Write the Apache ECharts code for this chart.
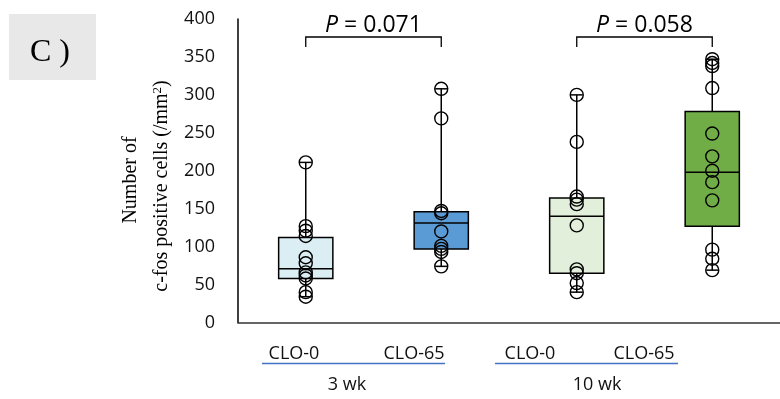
<!DOCTYPE html>
<html>
<head>
<meta charset="utf-8">
<script src="https://cdn.jsdelivr.net/npm/echarts@6/dist/echarts.min.js"></script>
<style>
	html, body { margin: 0; padding: 0; background: #fff; }
	#main { width: 780px; height: 399px; }
</style>
</head>
<body>
<div id="main"></div>
<script>
// 分组
var categories = ['3wk CLO-0', '3wk CLO-65', '10wk CLO-0', '10wk CLO-65'];

// 箱线: [min, q1, median, q3, max]
var boxStats = [
	[34, 58, 71, 112, 211],
	[74, 97, 131, 146, 308],
	[40, 65, 140, 164, 300],
	[69, 127, 198, 278, 347]
];

// 各组的原始点
var points_3wk_0 = [211, 127, 121, 114, 86, 78, 66, 62, 58, 40, 34];
var points_3wk_65 = [308, 269, 147, 144, 120, 101, 97, 93, 74];
var points_10wk_0 = [300, 238, 166, 162, 156, 128, 70, 65, 52, 40];
var points_10wk_65 = [347, 342, 338, 309, 249, 219, 200, 185, 161, 96, 84, 69];

var boxColors = ['#DAEEF3', '#5B9BD5', '#E2EFDA', '#70AD47'];

// 显著性
var pLabels = ['0.071', '0.058'];
var pPairs = [[0, 1], [2, 3]];

// y轴刻度
var yMin = 0, yMax = 400, yStep = 50;

var allPoints = [points_3wk_0, points_3wk_65, points_10wk_0, points_10wk_65];

var boxData = boxStats.map(function(s, i) {
	return [i].concat(s);
});

var scatterData = [];
for (var i = 0; i < allPoints.length; i++) {
	for (var j = 0; j < allPoints[i].length; j++) {
		scatterData.push([i, allPoints[i][j]]);
	}
}

function renderBox(params, api) {
	var idx = api.value(0);
	var band = api.size([1, 0])[0];
	var half = band * 0.2;
	var cap = 6;
	var pMin = api.coord([idx, api.value(1)]);
	var pQ1 = api.coord([idx, api.value(2)]);
	var pMed = api.coord([idx, api.value(3)]);
	var pQ3 = api.coord([idx, api.value(4)]);
	var pMax = api.coord([idx, api.value(5)]);
	var x = pMed[0];
	var line = { stroke: '#000', lineWidth: 1.5 };
	return {
		type: 'group',
		children: [
			{ type: 'line', shape: { x1: x, y1: pMax[1], x2: x, y2: pQ3[1] }, style: line },
			{ type: 'line', shape: { x1: x, y1: pQ1[1], x2: x, y2: pMin[1] }, style: line },
			{ type: 'line', shape: { x1: x - cap, y1: pMax[1], x2: x + cap, y2: pMax[1] }, style: line },
			{ type: 'line', shape: { x1: x - cap, y1: pMin[1], x2: x + cap, y2: pMin[1] }, style: line },
			{
				type: 'rect',
				shape: { x: x - half, y: pQ3[1], width: half * 2, height: pQ1[1] - pQ3[1] },
				style: { fill: boxColors[idx], stroke: '#000', lineWidth: 1.5 }
			},
			{ type: 'line', shape: { x1: x - half, y1: pMed[1], x2: x + half, y2: pMed[1] }, style: line }
		]
	};
}

function renderBracket(params, api) {
	var a = api.coord([api.value(0), yMax]);
	var b = api.coord([api.value(1), yMax]);
	var top = 37, leg = 47;
	var line = { stroke: '#000', lineWidth: 1.3, fill: null };
	return {
		type: 'group',
		children: [
			{ type: 'polyline', shape: { points: [[a[0], leg], [a[0], top], [b[0], top], [b[0], leg]] }, style: line },
			{
				type: 'text',
				x: (a[0] + b[0]) / 2,
				y: 25,
				style: {
					text: '{i|P} = ' + pLabels[params.dataIndex],
					align: 'center',
					verticalAlign: 'middle',
					fontFamily: 'Open Sans',
					fontSize: 23,
					fill: '#000',
					rich: { i: { fontStyle: 'italic', fontFamily: 'Open Sans', fontSize: 23 } }
				}
			}
		]
	};
}

var labelStyle = { fontFamily: 'Open Sans', fontSize: 18, fill: '#111', align: 'center', verticalAlign: 'middle' };

function groupText(txt, x, y) {
	return { type: 'text', x: x, y: y, style: Object.assign({ text: txt }, labelStyle) };
}

var option = {
	animation: false,
	grid: {
		left: 238,
		top: 19,
		bottom: 76.5,
		width: 548
	},
	xAxis: {
		type: 'category',
		data: categories,
		axisLine: { lineStyle: { color: '#333', width: 1.5 } },
		axisTick: { show: false },
		axisLabel: { show: false },
		splitLine: { show: false }
	},
	yAxis: {
		type: 'value',
		min: yMin,
		max: yMax,
		interval: yStep,
		axisLine: { show: true, lineStyle: { color: '#000', width: 1.5 } },
		axisTick: { show: false },
		splitLine: { show: false },
		axisLabel: {
			margin: 23,
			fontFamily: 'Open Sans',
			fontSize: 18,
			color: '#111'
		}
	},
	graphic: [
		{
			type: 'rect',
			shape: { x: 9, y: 14, width: 87, height: 66 },
			style: { fill: '#E8E8E8' }
		},
		{
			type: 'text',
			x: 50, y: 53,
			style: { text: 'C )', fontFamily: 'Liberation Serif', fontSize: 32, fill: '#000', align: 'center', verticalAlign: 'middle' }
		},
		// y轴标题
		{
			type: 'group',
			x: 0, y: 0,
			rotation: Math.PI / 2,
			children: [
				{
					type: 'text', x: -180, y: 131,
					style: { text: 'Number of', fontFamily: 'Liberation Serif', fontSize: 20, fill: '#000', align: 'center', verticalAlign: 'middle' }
				},
				{
					type: 'text', x: -186, y: 162,
					style: {
						text: 'c-fos positive cells (/mm{sup|2})',
						fontFamily: 'Liberation Serif', fontSize: 20, fill: '#000', align: 'center', verticalAlign: 'middle',
						rich: { sup: { fontFamily: 'Liberation Serif', fontSize: 13, verticalAlign: 'top', padding: [0, 0, 9, 0] } }
					}
				}
			]
		},
		// 组标签
		groupText('CLO-0', 294, 354),
		groupText('CLO-65', 414, 354),
		groupText('CLO-0', 530, 354),
		groupText('CLO-65', 644, 354),
		{ type: 'line', shape: { x1: 262, y1: 363.5, x2: 445, y2: 363.5 }, style: { stroke: '#4472C4', lineWidth: 1.5 } },
		{ type: 'line', shape: { x1: 495, y1: 363.5, x2: 678, y2: 363.5 }, style: { stroke: '#4472C4', lineWidth: 1.5 } },
		groupText('3 wk', 347, 385),
		groupText('10 wk', 597, 385)
	],
	series: [
		{
			type: 'custom',
			renderItem: renderBox,
			data: boxData,
			z: 2
		},
		{
			type: 'scatter',
			data: scatterData,
			symbol: 'circle',
			symbolSize: 13,
			itemStyle: {
				color: 'rgba(0,0,0,0)',
				borderColor: '#000',
				borderWidth: 1.4,
				opacity: 1
			},
			z: 3
		},
		{
			type: 'custom',
			renderItem: renderBracket,
			data: pPairs,
			clip: false,
			z: 4
		}
	]
};

var myChart = echarts.init(document.getElementById('main'));
myChart.setOption(option);
</script>
</body>
</html>
